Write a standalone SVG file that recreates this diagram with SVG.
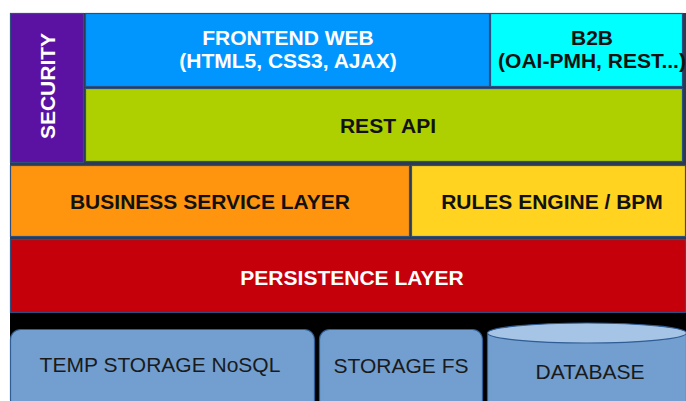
<svg xmlns="http://www.w3.org/2000/svg" width="686" height="401" viewBox="0 0 686 401">
<style>
.b{stroke:#2e4f7e;stroke-width:1.2}
.t{font-family:"Liberation Sans",Arial,sans-serif;font-weight:bold;font-size:21px;text-anchor:middle}
.w{fill:#ffffff}
.k{fill:#111111}
.s{font-family:"Liberation Sans",Arial,sans-serif;font-size:21px;text-anchor:middle;fill:#1a1a1a}
.st{fill:#729fcf;stroke:#2f5d95;stroke-width:1.2}
</style>
<rect x="0" y="0" width="686" height="401" fill="#ffffff"/>
<rect x="10" y="13" width="676" height="300" fill="#2c3a50"/>
<rect x="10" y="313" width="676" height="88" fill="#000000"/>
<g id="security">
<rect class="b" x="10.5" y="13.5" width="73" height="149" fill="#5b12a3"/>
<text class="t w" transform="translate(55,86) rotate(-90)">SECURITY</text>
</g>
<g id="frontend">
<rect class="b" x="85.5" y="13.5" width="404" height="73" fill="#0096fe"/>
<text class="t w" x="288" y="45">FRONTEND WEB</text>
<text class="t w" x="288" y="68">(HTML5, CSS3, AJAX)</text>
</g>
<g id="b2b">
<rect class="b" x="490.5" y="13.5" width="192" height="73" fill="#00ffff"/>
<text class="t k" x="592" y="45">B2B</text>
<text class="t k" x="592" y="68">(OAI-PMH, REST...)</text>
</g>
<g id="restapi">
<rect class="b" x="85.5" y="88.5" width="597" height="73" fill="#aecf00"/>
<text class="t k" x="388" y="133">REST API</text>
</g>
<g id="business">
<rect class="b" x="10.5" y="165.5" width="399" height="71" fill="#ff950e"/>
<text class="t k" x="210" y="209">BUSINESS SERVICE LAYER</text>
</g>
<g id="rules">
<rect class="b" x="411.5" y="165.5" width="274" height="71" fill="#ffd320"/>
<text class="t k" x="552" y="209">RULES ENGINE / BPM</text>
</g>
<g id="persistence">
<rect class="b" x="10.5" y="239.5" width="675" height="73" fill="#c5000b"/>
<text class="t w" x="352" y="285">PERSISTENCE LAYER</text>
</g>
<g id="tempstorage">
<rect class="st" x="10.5" y="329.5" width="304" height="80" rx="10"/>
<text class="s" x="160" y="372">TEMP STORAGE NoSQL</text>
</g>
<g id="storagefs">
<rect class="st" x="319.5" y="329.5" width="163" height="80" rx="10"/>
<text class="s" x="401" y="373">STORAGE FS</text>
</g>
<g id="database">
<path class="st" d="M487.5,333 L487.5,410 L686.5,410 L686.5,333 Z"/>
<ellipse cx="587" cy="333" rx="99.5" ry="10" fill="#a6c4e6" stroke="#2f5d95" stroke-width="1.2"/>
<text class="s" x="590" y="379">DATABASE</text>
</g>
<g id="connectors"></g>
</svg>
